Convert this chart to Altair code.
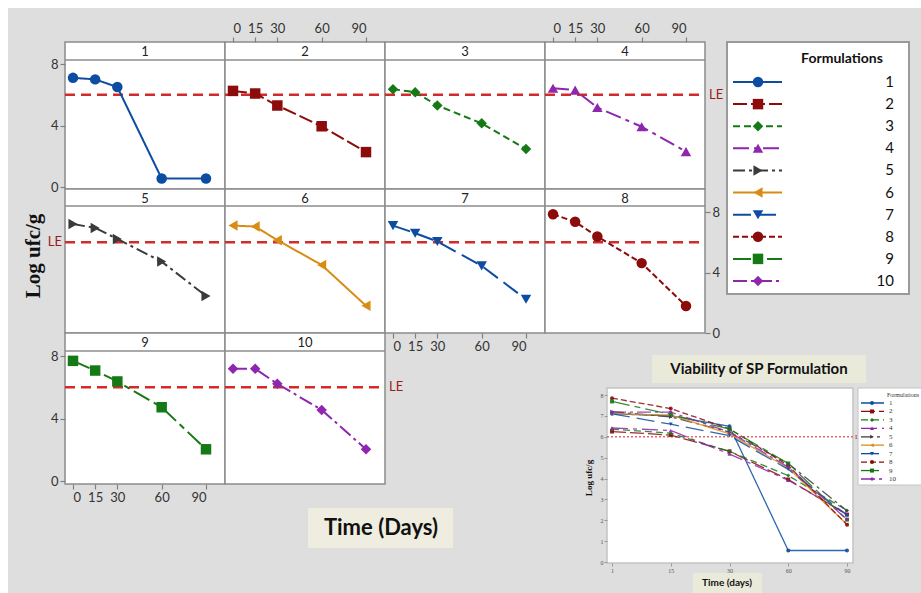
import altair as alt
import pandas as pd

# ---------------- data ----------------
formulations = ["1", "2", "3", "4", "5", "6", "7", "8", "9", "10"]
days = [0, 15, 30, 60, 90]
log_ufc = {
    "1": [7.1, 7.0, 6.5, 0.55, 0.55],
    "2": [6.25, 6.08, 5.3, 3.95, 2.27],
    "3": [6.36, 6.17, 5.3, 4.14, 2.47],
    "4": [6.42, 6.3, 5.17, 3.92, 2.3],
    "5": [7.2, 6.95, 6.22, 4.72, 2.45],
    "6": [7.1, 7.04, 6.14, 4.5, 1.8],
    "7": [7.1, 6.6, 6.05, 4.44, 2.23],
    "8": [7.85, 7.35, 6.38, 4.62, 1.79],
    "9": [7.69, 7.07, 6.37, 4.72, 2.03],
    "10": [7.18, 7.18, 6.22, 4.55, 2.03],
}
inset_days = ["1", "15", "30", "60", "90"]
le_level = [6]
y_ticks = [0, 4, 8]
x_ticks = [0, 15, 30, 60, 90]
inset_y_ticks = [0, 1, 2, 3, 4, 5, 6, 7, 8]

# ---------------- styles ----------------
COLORS = ["#0c4da2", "#8c0b0b", "#157a15", "#8e26ae", "#3b3b3b",
          "#d98c14", "#0c4da2", "#8c0b0b", "#157a15", "#8e26ae"]
SHAPES = ["circle", "square", "diamond", "triangle-up", "triangle-right",
          "triangle-left", "triangle-down", "circle", "square", "diamond"]
DASHES = [[1, 0], [14, 4], [7, 4], [16, 5, 4, 5], [12, 4, 3, 4],
          [1, 0], [18, 7], [6, 3], [18, 5, 6, 5], [14, 4, 3, 4]]
GRID = "#8c8c8c"
LE_RED = "#d42a2a"
LE_TXT = "#9b1c1c"
SANS = "Lato"
SERIF = "Liberation Serif"
W, H = 921, 593

color = alt.Color("f:N", scale=alt.Scale(domain=formulations, range=COLORS), legend=None)
shape = alt.Shape("f:N", scale=alt.Scale(domain=formulations, range=SHAPES), legend=None)
dash = alt.StrokeDash("f:N", scale=alt.Scale(domain=formulations, range=DASHES), legend=None)

ONE = pd.DataFrame({"k": [0]})

COL_X = [65, 225, 385, 545]
PW = 160
# top, strip bottom, bottom, y(0) px, y(8) px
ROWS = [(42, 60, 189, 187, 64), (189, 206, 333, 333, 212), (333, 351, 484, 481, 356)]


def box(x, x2, y, y2, fill, stroke=None, sw=0):
    kw = dict(fill=fill)
    if stroke:
        kw.update(stroke=stroke, strokeWidth=sw)
    return alt.Chart(ONE).mark_rect(**kw).encode(
        x=alt.value(x), x2=alt.value(x2), y=alt.value(y), y2=alt.value(y2))


def label(text, x, y, size, bold=False, font=SANS, col="#111", align="center", angle=0):
    kw = dict(font=font, fontSize=size, color=col, align=align, baseline="middle")
    if bold:
        kw["fontWeight"] = "bold"
    if angle:
        kw["angle"] = angle
    return alt.Chart(ONE).mark_text(**kw).encode(
        x=alt.value(x), y=alt.value(y), text=alt.value(text))


def panel(idx, name):
    r, c = divmod(idx, 4)
    L = COL_X[c]
    R = L + PW
    top, sb, bot, y0, y8 = ROWS[r]
    ax_common = dict(title=None, tickSize=5, labelPadding=2, labelFont=SANS,
                     labelFontSize=13, labelColor="#333", tickColor="#808080",
                     tickWidth=1.2, domain=False, grid=False, labelAngle=0, zindex=2)
    xaxis = None
    if r == 0 and c in (1, 3):
        xaxis = alt.Axis(orient="top", offset=-top, values=x_ticks, **ax_common)
    elif (r == 2 and c == 0) or (r == 1 and c == 2):
        xaxis = alt.Axis(orient="bottom", offset=bot - H, values=x_ticks, **ax_common)
    yaxis = None
    if c == 0 and r in (0, 2):
        yaxis = alt.Axis(orient="left", offset=-L, values=y_ticks, **ax_common)
    elif r == 1 and c == 3:
        yaxis = alt.Axis(orient="right", offset=R - W, values=y_ticks, **ax_common)

    X = alt.X("t:Q", scale=alt.Scale(domain=[0, 90], range=[L + 8, L + 141], nice=False, zero=False), axis=xaxis)
    Y = alt.Y("v:Q", scale=alt.Scale(domain=[0, 8], range=[y0, y8], nice=False, zero=False), axis=yaxis)

    df = pd.DataFrame({"t": days, "v": log_ufc[name], "f": name})
    le_df = pd.DataFrame({"v": le_level})

    frame = box(L, R, top, bot, "white", GRID, 1.5)
    strip = alt.Chart(ONE).mark_rule(color=GRID, strokeWidth=1.5).encode(
        x=alt.value(L), x2=alt.value(R), y=alt.value(sb))
    title = label(name, (L + R) / 2, (top + sb) / 2 + 1, 13, col="#222")
    le = alt.Chart(le_df).mark_rule(color=LE_RED, strokeWidth=2.5, strokeDash=[10, 6]).encode(
        x=alt.value(L), x2=alt.value(R), y=Y)
    line = alt.Chart(df).mark_line(strokeWidth=2).encode(x=X, y=Y, color=color, strokeDash=dash)
    pts = alt.Chart(df).mark_point(filled=True, size=110, opacity=1).encode(
        x=X, y=Y, color=color, shape=shape)
    layers = [frame, strip, title, le, line, pts]
    if idx in (3, 9):
        layers.append(alt.Chart(le_df).mark_text(font=SANS, fontSize=13, color=LE_TXT, align="left",
                                                 baseline="middle").encode(
            x=alt.value(R + 4), y=Y, text=alt.value("LE")))
    if idx == 4:
        layers.append(alt.Chart(le_df).mark_text(font=SANS, fontSize=13, color=LE_TXT, align="right",
                                                 baseline="middle").encode(
            x=alt.value(L - 3), y=Y, text=alt.value("LE")))
    return alt.layer(*layers)


panels = [panel(i, n) for i, n in enumerate(formulations)]

# ---------------- main legend ----------------
leg_df = pd.DataFrame({"f": formulations})
LY = alt.Y("f:N", scale=alt.Scale(type="point", domain=formulations, range=[82, 281], padding=0), axis=None)
legend = alt.layer(
    box(727, 909, 42, 294, "white", "#9a9a9a", 2),
    label("Formulations", 842, 59, 14, bold=True),
    alt.Chart(leg_df).mark_rule(strokeWidth=2).encode(
        x=alt.value(733), x2=alt.value(782), y=LY, color=color, strokeDash=dash),
    alt.Chart(leg_df).mark_point(filled=True, size=110, opacity=1).encode(
        x=alt.value(758), y=LY, color=color, shape=shape),
    alt.Chart(leg_df).mark_text(font=SANS, fontSize=15, color="#111", align="right", baseline="middle").encode(
        x=alt.value(894), y=LY, text="f:N"),
)

# ---------------- titles ----------------
titles = alt.layer(
    label("Log ufc/g", 34, 256, 21, bold=True, font=SERIF, angle=270),
    box(308, 453, 508, 548, "#eeeddf"),
    label("Time (Days)", 381, 528, 22, bold=True),
)

# ---------------- inset ----------------
inset_rows = []
for f in formulations:
    for d, v in zip(inset_days, log_ufc[f]):
        inset_rows.append({"d": d, "v": v, "f": f})
inset_df = pd.DataFrame(inset_rows)
iax = dict(title=None, tickSize=3, labelPadding=1, labelFont=SERIF, labelFontSize=6,
           labelColor="#555", tickColor="#999", domain=False, grid=False, labelAngle=0, zindex=2)
IX = alt.X("d:O", scale=alt.Scale(type="point", domain=inset_days, range=[612, 847], padding=0),
           axis=alt.Axis(orient="bottom", offset=563 - H, **iax))
IY = alt.Y("v:Q", scale=alt.Scale(domain=[0, 8], range=[562, 395], nice=False, zero=False),
           axis=alt.Axis(orient="left", offset=-607, values=inset_y_ticks, **iax))
ILY = alt.Y("f:N", scale=alt.Scale(type="point", domain=formulations, range=[403, 479], padding=0), axis=None)

inset_plot = alt.layer(
    box(607, 853, 388, 563, "white", "#c4c4c4", 1.5),
    alt.Chart(pd.DataFrame({"v": le_level})).mark_rule(color="#e06a6a", strokeWidth=1.5, strokeDash=[2, 2]).encode(
        x=alt.value(607), x2=alt.value(853), y=IY),
    alt.Chart(pd.DataFrame({"v": le_level})).mark_text(font=SERIF, fontSize=7, color=LE_TXT, align="left",
                                                        baseline="middle").encode(
        x=alt.value(855), y=IY, text=alt.value("LE")),
    alt.Chart(inset_df).mark_line(strokeWidth=1.3, opacity=0.85).encode(x=IX, y=IY, color=color, strokeDash=dash),
    alt.Chart(inset_df).mark_point(filled=True, size=16, opacity=0.9).encode(x=IX, y=IY, color=color, shape=shape),
)
inset_legend = alt.layer(
    box(858, 925, 388, 485, "white", "#c4c4c4", 1),
    label("Formulations", 887, 395, 6, font=SERIF, col="#333", align="left"),
    alt.Chart(leg_df).mark_rule(strokeWidth=1.3).encode(
        x=alt.value(861), x2=alt.value(884), y=ILY, color=color, strokeDash=dash),
    alt.Chart(leg_df).mark_point(filled=True, size=16, opacity=1).encode(
        x=alt.value(872), y=ILY, color=color, shape=shape),
    alt.Chart(leg_df).mark_text(font=SERIF, fontSize=7, color="#333", align="left", baseline="middle").encode(
        x=alt.value(889), y=ILY, text="f:N"),
)
inset_text = alt.layer(
    box(652, 866, 355, 383, "#eaeadb"),
    label("Viability of SP Formulation", 759, 369, 15, bold=True),
    label("Log ufc/g", 589, 478, 9, bold=True, font=SERIF, angle=270),
    box(693, 762, 573, 593, "#eaeadb"),
    label("Time (days)", 727, 583, 10, bold=True),
)

bg = box(8, W, 8, H, "#dedede")

chart = alt.layer(
    bg, *panels, legend, titles, inset_plot, inset_legend, inset_text
).resolve_scale(
    x="independent", y="independent"
).resolve_axis(
    x="independent", y="independent"
).properties(
    width=W, height=H, padding=0, background="white",
    autosize=alt.AutoSizeParams(type="none"),
).configure_view(strokeWidth=0)

chart.save("out.html", embed_options={"renderer": "svg", "actions": False})
